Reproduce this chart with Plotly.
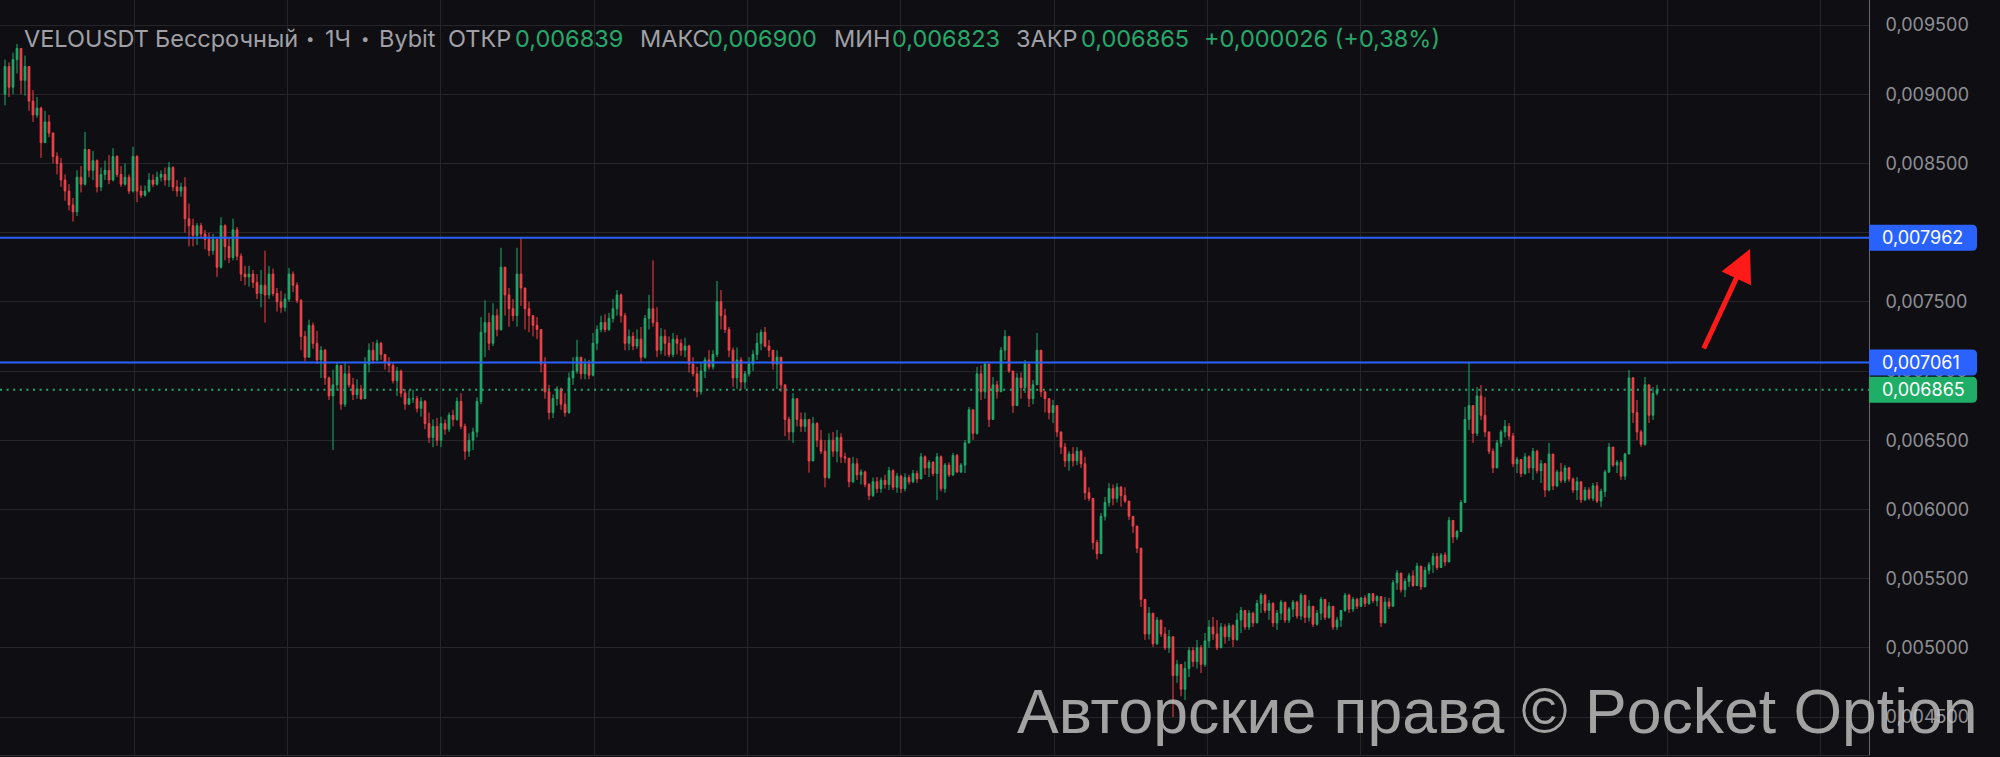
import plotly.graph_objects as go

# ---------------- data (prices x 1e-6) ----------------
open0 = 9000
closes = [
    9200, 9050, 9250, 9330, 9100, 9200, 8950, 8850, 8900, 8650,
    8800, 8720, 8550, 8500, 8380, 8300, 8200, 8150, 8400, 8350,
    8600, 8450, 8520, 8330, 8420, 8450, 8380, 8550, 8420, 8350,
    8400, 8300, 8550, 8300, 8270, 8300, 8380, 8350, 8400, 8420,
    8380, 8470, 8330, 8300, 8330, 8100, 8050, 7980, 8050, 7990,
    7950, 7870, 7950, 7750, 8050, 7900, 7820, 8020, 7830, 7700,
    7680, 7700, 7640, 7560, 7620, 7550, 7700, 7560, 7500, 7460,
    7520, 7700, 7620, 7510, 7250, 7100, 7330, 7200, 7080, 7150,
    6950, 6820, 6900, 7040, 6760, 6980, 6900, 6830, 6870, 6800,
    7050, 7150, 7080, 7200, 7120, 7060, 7040, 6930, 7000, 6840,
    6760, 6800, 6800, 6730, 6780, 6620, 6520, 6600, 6500, 6620,
    6580, 6680, 6650, 6780, 6600, 6420, 6500, 6560, 6780, 7280,
    7350, 7200, 7400, 7300, 7750, 7550, 7450, 7400, 7700, 7600,
    7450, 7400, 7330, 7300, 7050, 6850, 6700, 6800, 6870, 6760,
    6700, 6950, 7000, 7100, 6980, 7050, 6970, 7200, 7300, 7350,
    7300, 7380, 7450, 7550, 7400, 7200, 7250, 7180, 7230, 7100,
    7380, 7450, 7350, 7150, 7250, 7200, 7120, 7230, 7200, 7150,
    7180, 7050, 6980, 6850, 7000, 7080, 7030, 7120, 7500, 7400,
    7300, 7150, 6950, 7080, 6920, 6980, 7050, 7120, 7200, 7280,
    7180, 7150, 7050, 7100, 6900, 6650, 6560, 6800, 6650, 6600,
    6650, 6350, 6620, 6500, 6420, 6230, 6500, 6420, 6520, 6380,
    6370, 6200, 6330, 6250, 6270, 6180, 6100, 6200, 6150, 6210,
    6180, 6280, 6160, 6240, 6150, 6230, 6200, 6260, 6220, 6380,
    6300, 6340, 6260, 6380, 6150, 6320, 6250, 6390, 6270, 6320,
    6480, 6720, 6550, 6980, 6850, 7050, 6650, 6900, 6850, 7150,
    7250, 7000, 6750, 6950, 6880, 7050, 6800, 6900, 7150, 6850,
    6800, 6700, 6750, 6560, 6450, 6350, 6400, 6350, 6420, 6330,
    6120, 6080, 5760, 5680, 5950, 6050, 6150, 6080, 6160, 6100,
    6060, 5950, 5880, 5720, 5350, 5100, 5250, 5030, 5200, 5100,
    5000, 5080, 4800, 4880, 4700, 4850, 4980, 4900, 5000, 4880,
    5050, 5150, 5100, 5000, 5150, 5080, 5160, 5060, 5200, 5270,
    5150, 5250, 5180, 5320, 5380, 5270, 5320, 5180, 5250, 5330,
    5200, 5280, 5330, 5230, 5380, 5220, 5300, 5170, 5250, 5350,
    5220, 5300, 5150, 5200, 5270, 5380, 5280, 5350, 5300, 5360,
    5320, 5390, 5340, 5370, 5180, 5330, 5300, 5470, 5540, 5420,
    5480, 5520, 5450, 5590, 5440, 5560, 5600, 5660, 5580, 5670,
    5620, 5920, 5800, 5840, 6050, 6650, 6750, 6550, 6820, 6680,
    6560, 6420, 6300, 6480, 6560, 6600, 6530, 6330, 6360, 6260,
    6380, 6300, 6420, 6280, 6330, 6140, 6400, 6170, 6270, 6210,
    6300, 6220, 6140, 6200, 6070, 6140, 6080, 6170, 6060, 6130,
    6270, 6450, 6320, 6340, 6240, 6400, 6950, 6700, 6560, 6470,
    6900, 6680, 6839, 6865,
]
highs = [
    9250, 9230, 9300, 9363, 9320, 9280, 9150, 9030, 8980, 8910,
    8880, 8850, 8620, 8580, 8540, 8420, 8350, 8250, 8450, 8480,
    8727, 8600, 8590, 8530, 8470, 8520, 8560, 8610, 8560, 8480,
    8500, 8420, 8620, 8560, 8340, 8340, 8430, 8420, 8440, 8450,
    8470, 8510, 8480, 8380, 8360, 8400, 8210, 8100, 8070, 8070,
    8020, 8000, 7990, 7930, 8110, 8060, 7960, 8100, 8040, 7850,
    7760, 7760, 7730, 7700, 7730, 7870, 7760, 7740, 7600, 7580,
    7560, 7745, 7720, 7640, 7520, 7290, 7370, 7350, 7290, 7180,
    7160, 6960, 7010, 7060, 7000, 7060, 7040, 6950, 6940, 6900,
    7100, 7200, 7210, 7225, 7210, 7120, 7100, 7060, 7030, 7010,
    6870, 6860, 6865, 6820, 6810, 6790, 6700, 6650, 6660, 6670,
    6650, 6700, 6720, 6810, 6840, 6620, 6550, 6590, 6810, 7390,
    7510, 7420, 7490, 7450, 7890, 7640, 7600, 7520, 7890, 7962,
    7590, 7500, 7400, 7390, 7300, 7100, 6900, 6830, 6890, 6880,
    6840, 6990, 7100, 7225, 7100, 7090, 7080, 7275, 7330, 7400,
    7410, 7420, 7520, 7585, 7560, 7420, 7300, 7280, 7300, 7318,
    7405, 7550, 7800, 7460, 7310, 7300, 7250, 7275, 7260, 7230,
    7240, 7190, 7100, 7030, 7060, 7100, 7150, 7150, 7650, 7585,
    7450, 7318, 7170, 7170, 7100, 7000, 7100, 7150, 7275, 7300,
    7318, 7224, 7130, 7150, 7060, 6900, 6670, 6840, 6790, 6700,
    6700, 6600, 6668, 6630, 6574, 6500, 6550, 6560, 6574, 6550,
    6410, 6360, 6380, 6370, 6290, 6280, 6191, 6230, 6234, 6230,
    6250, 6307, 6290, 6263, 6250, 6260, 6250, 6285, 6280, 6408,
    6390, 6357, 6350, 6408, 6390, 6335, 6340, 6408, 6400, 6335,
    6502, 6740, 6700, 7029, 7040, 7058, 6884, 6957, 6930, 7174,
    7296, 7224, 6884, 6986, 6990, 7080, 6935, 6935, 7275, 7080,
    6841, 6800, 6791, 6646, 6560, 6480, 6420, 6450, 6450, 6430,
    6380, 6160, 6070, 5780, 5975, 6090, 6190, 6180, 6190, 6170,
    6160, 6046, 5945, 5830, 5541, 5346, 5295, 5201, 5223, 5200,
    5150, 5129, 4963, 4912, 4862, 4900, 5006, 5006, 5057, 5020,
    5107, 5200, 5223, 5201, 5179, 5170, 5179, 5170, 5250, 5295,
    5273, 5273, 5260, 5346, 5396, 5390, 5346, 5330, 5273, 5346,
    5330, 5295, 5346, 5340, 5396, 5380, 5346, 5300, 5273, 5367,
    5346, 5330, 5300, 5223, 5273, 5396, 5390, 5367, 5360, 5367,
    5380, 5396, 5396, 5380, 5346, 5367, 5360, 5490, 5562, 5530,
    5500, 5541, 5560, 5613, 5590, 5584, 5620, 5685, 5685, 5685,
    5690, 5945, 5873, 5851, 6068, 6740, 7061, 6750, 6884, 6899,
    6812, 6560, 6440, 6502, 6574, 6646, 6624, 6552, 6379, 6357,
    6408, 6390, 6444, 6430, 6357, 6335, 6480, 6400, 6285, 6335,
    6320, 6307, 6230, 6234, 6200, 6162, 6160, 6191, 6198, 6150,
    6285, 6480, 6429, 6357, 6357, 6408, 7007, 6957, 6791, 6574,
    6957, 6900, 6884, 6900,
]
lows = [
    8920, 8980, 9000, 9150, 9000, 8990, 8880, 8800, 8830, 8540,
    8700, 8690, 8500, 8420, 8330, 8230, 8160, 8080, 8120, 8290,
    8340, 8400, 8380, 8290, 8300, 8380, 8350, 8370, 8400, 8330,
    8340, 8280, 8290, 8220, 8250, 8260, 8290, 8330, 8340, 8370,
    8340, 8330, 8300, 8260, 8260, 8000, 7900, 7900, 7910, 7960,
    7880, 7830, 7840, 7680, 7740, 7800, 7780, 7800, 7800, 7650,
    7620, 7610, 7600, 7520, 7460, 7350, 7520, 7540, 7430, 7420,
    7430, 7500, 7570, 7490, 7150, 7070, 7100, 7160, 7050, 6950,
    6900, 6790, 6430, 6860, 6720, 6740, 6880, 6790, 6800, 6790,
    6800, 6990, 7050, 7070, 7080, 7010, 6990, 6910, 6820, 6810,
    6720, 6760, 6770, 6700, 6670, 6580, 6480, 6450, 6460, 6450,
    6540, 6560, 6600, 6640, 6580, 6360, 6380, 6430, 6520, 6760,
    7100, 7150, 7180, 7250, 7290, 7400, 7320, 7360, 7320, 7470,
    7300, 7280, 7250, 7230, 6990, 6800, 6650, 6660, 6750, 6720,
    6670, 6690, 6900, 6980, 6940, 6940, 6940, 6960, 7150, 7280,
    7280, 7290, 7350, 7400, 7350, 7150, 7150, 7150, 7160, 7065,
    7090, 7300, 7320, 7100, 7120, 7110, 7100, 7100, 7120, 7110,
    7100, 6990, 6960, 6810, 6830, 6950, 7010, 7010, 7100, 7300,
    7275, 7100, 6885, 6870, 6865, 6870, 6960, 7000, 7080, 7150,
    7170, 7100, 7010, 6870, 6850, 6530, 6500, 6480, 6600, 6560,
    6560, 6265, 6420, 6450, 6400, 6160, 6220, 6380, 6340, 6335,
    6335, 6160, 6190, 6213, 6180, 6160, 6068, 6090, 6119, 6120,
    6150, 6140, 6140, 6120, 6119, 6130, 6180, 6190, 6191, 6234,
    6250, 6234, 6240, 6068, 6130, 6119, 6234, 6240, 6263, 6263,
    6263, 6500, 6502, 6540, 6790, 6800, 6595, 6740, 6800, 6884,
    7080, 6986, 6697, 6790, 6800, 6841, 6740, 6760, 6900, 6812,
    6700, 6650, 6624, 6523, 6400, 6307, 6280, 6310, 6320, 6300,
    6070, 6060, 5710, 5640, 5730, 5920, 6020, 6030, 6050, 6020,
    6046, 5924, 5830, 5685, 5295, 5057, 5060, 5006, 5020, 5078,
    4984, 4963, 4500, 4746, 4650, 4623, 4789, 4862, 4850, 4818,
    4862, 5000, 5057, 4984, 5006, 5030, 5050, 5006, 5050, 5107,
    5130, 5129, 5150, 5179, 5252, 5252, 5201, 5150, 5129, 5201,
    5179, 5180, 5223, 5210, 5201, 5179, 5190, 5150, 5160, 5201,
    5201, 5210, 5129, 5129, 5150, 5260, 5252, 5260, 5280, 5295,
    5295, 5310, 5324, 5300, 5150, 5273, 5280, 5346, 5418, 5400,
    5367, 5440, 5440, 5468, 5418, 5440, 5530, 5541, 5562, 5584,
    5590, 5685, 5757, 5779, 5851, 6060, 6574, 6480, 6530, 6646,
    6523, 6400, 6263, 6300, 6451, 6520, 6502, 6307, 6263, 6234,
    6250, 6263, 6213, 6260, 6191, 6090, 6130, 6140, 6160, 6191,
    6191, 6200, 6119, 6068, 6046, 6060, 6068, 6060, 6046, 6017,
    6090, 6263, 6307, 6263, 6213, 6213, 6400, 6624, 6502, 6451,
    6460, 6624, 6646, 6823,
]
levels = [0.007962, 0.007061]
last_price = 0.006865
tick_values = [0.0045, 0.0050, 0.0055, 0.0060, 0.0065, 0.0070, 0.0075,
               0.0080, 0.0085, 0.0090, 0.0095]
header = [
    ("VELOUSDT", 22, "gray", 23.5), ("Бессрочный", 153, "gray", 23.5), ("•", 304, "gray", 15),
    ("1Ч", 323, "gray", 23.5), ("•", 359, "gray", 15), ("Bybit", 377, "gray", 23.5),
    ("ОТКР", 446, "gray", 23.5), ("0,006839", 513, "green", 23.5),
    ("МАКС", 638, "gray", 23.5), ("0,006900", 706, "green", 23.5),
    ("МИН", 832, "gray", 23.5), ("0,006823", 890, "green", 23.5),
    ("ЗАКР", 1014, "gray", 23.5), ("0,006865", 1079, "green", 23.5),
    ("+0,000026 (+0,38%)", 1202, "green", 23.5),
]
watermark = "Авторские права © Pocket Option"

# ---------------- build ----------------
S = 1e-6
idx = list(range(len(closes)))
opens = [open0] + closes[:-1]
o = [v * S for v in opens]
c = [v * S for v in closes]
h = [max(a, b, d) * S for a, b, d in zip(highs, opens, closes)]
l = [min(a, b, d) * S for a, b, d in zip(lows, opens, closes)]

BG = "#0f0f13"
GRID = "#25252a"
GREEN = "#22ab6c"
RED = "#f0454c"
BLUE = "#2962ff"
GRAY_TXT = "#a0a0a6"
TXT_GREEN = "#26a86b"
BOX_GREEN = "#1fae67"

fig = go.Figure()
fig.add_trace(go.Candlestick(
    x=idx, open=o, high=h, low=l, close=c,
    increasing=dict(line=dict(color=GREEN, width=1), fillcolor=GREEN),
    decreasing=dict(line=dict(color=RED, width=1), fillcolor=RED),
    showlegend=False, hoverinfo="skip",
))

PW, PH = 1869, 755
x_lo, x_hi = -1.25, 466.0
y_top = 0.0095 + 25 / 138400
y_bot = 0.0095 - 730 / 138400


def to_paper_y(v):
    return (v - y_bot) / (y_top - y_bot)


shapes = []
for lv in levels:
    shapes.append(dict(type="line", xref="paper", x0=0, x1=1, yref="y", y0=lv, y1=lv,
                       line=dict(color=BLUE, width=2)))
shapes.append(dict(type="line", xref="paper", x0=0, x1=1, yref="y", y0=last_price, y1=last_price,
                   line=dict(color=TXT_GREEN, width=2, dash="2px,4.6px")))

# price tags on the axis (rounded on the right side)
tag_path = "M0,-13 H103 Q108,-13 108,-8 V8 Q108,13 103,13 H0 Z"
ann = []
for lv, bg in [(levels[0], BLUE), (levels[1], BLUE), (last_price, BOX_GREEN)]:
    shapes.append(dict(type="path", xref="paper", yref="paper", xsizemode="pixel", ysizemode="pixel",
                       xanchor=1, yanchor=to_paper_y(lv), path=tag_path,
                       fillcolor=bg, line=dict(width=0), layer="above"))
    ann.append(dict(text=f"{lv:.6f}".replace(".", ","), xref="paper", yref="y", x=1, y=lv,
                    xanchor="left", yanchor="middle", showarrow=False, xshift=11,
                    font=dict(family="Inter", size=18, color="#ffffff")))

for txt, px, col, fs in header:
    ann.append(dict(text=txt, xref="paper", yref="paper", x=0, y=1, xshift=px, yshift=-38,
                    xanchor="left", yanchor="middle", showarrow=False,
                    font=dict(family="Inter", size=fs, color=GRAY_TXT if col == "gray" else TXT_GREEN)))
ann.append(dict(text=watermark, xref="paper", yref="paper", x=0, y=1, xshift=1015, yshift=-711,
                xanchor="left", yanchor="middle", showarrow=False,
                font=dict(family="Liberation Sans", size=62.5, color="rgba(195,195,195,0.82)")))
ann.append(dict(text="", xref="x", yref="y", x=436.25, y=0.0078815, ax=-47, ay=101,
                showarrow=True, arrowhead=2, arrowsize=1.3, arrowwidth=5,
                arrowcolor="#ff1a1a", standoff=0))

fig.update_layout(
    width=2000, height=757,
    margin=dict(l=0, r=2000 - PW, t=0, b=757 - PH),
    paper_bgcolor=BG, plot_bgcolor=BG,
    separators=", ",
    boxgap=0.4,
    shapes=shapes, annotations=ann,
    xaxis=dict(range=[x_lo, x_hi], rangeslider=dict(visible=False), showticklabels=False,
               tick0=32.25, dtick=38.34, tickmode="linear", showgrid=True, gridcolor=GRID,
               gridwidth=1, zeroline=False, showline=True, linecolor="#2a2a30", ticks=""),
    yaxis=dict(range=[y_bot, y_top], side="right", tickvals=tick_values, tickformat=".6f",
               showgrid=True, gridcolor=GRID, gridwidth=1, zeroline=False,
               showline=True, linecolor="#66666b", linewidth=1, ticks="",
               ticklabelstandoff=12,
               tickfont=dict(family="Inter", size=18, color="#8f8f95")),
    hovermode=False,
)

fig.write_html(
    "out.html",
    config={"displayModeBar": False},
    post_script="document.body.style.margin='0';document.body.style.overflow='hidden';"
                "document.body.style.background='" + BG + "';",
)
